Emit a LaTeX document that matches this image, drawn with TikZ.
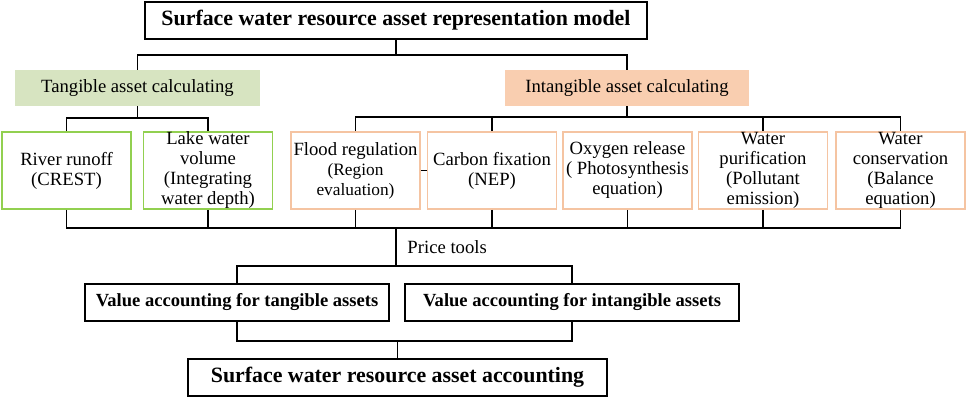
\documentclass[tikz,border=0pt]{standalone}
\usepackage{fontspec}
\setmainfont{Liberation Serif}
\usepackage{xcolor}
\usetikzlibrary{positioning}
\definecolor{green1}{RGB}{146,208,80}
\definecolor{greenfill}{RGB}{215,228,193}
\definecolor{orange1}{RGB}{245,196,162}
\definecolor{orangefill}{RGB}{249,206,176}
\newcommand{\subsize}{\fontsize{13pt}{14pt}\selectfont}

\begin{document}
\begin{tikzpicture}[x=0.75pt, y=-0.75pt,
    every node/.style={font=\fontsize{14pt}{15pt}\selectfont, inner sep=0pt, align=center},
    mainbox/.style={draw=black, line width=1.4pt, minimum height=27.75pt, font=\fontsize{16.4pt}{18pt}\selectfont\bfseries},
    valuebox/.style={draw=black, line width=1.4pt, minimum height=27.75pt, font=\fontsize{13.9pt}{15pt}\selectfont\bfseries},
    tangcat/.style={fill=greenfill, minimum width=183.75pt, minimum height=27pt},
    intcat/.style={fill=orangefill, minimum width=183pt, minimum height=27pt},
    tangbox/.style={draw=green1, line width=1.2pt, minimum width=97pt, minimum height=57.75pt},
    intbox/.style={draw=orange1, line width=1.2pt, minimum width=97pt, minimum height=57.75pt},
    conn/.style={draw=black, line width=1.2pt}
]
    \useasboundingbox (0,0) rectangle (969,399);

    \node[mainbox, minimum width=376.5pt, name=top] at(396,20.5) {Surface water resource asset representation model};

    \node[tangcat, name=tang] at(137.5,88) {Tangible asset calculating};
    \node[intcat, name=intang] at(627,88) {Intangible asset calculating};

    \node[tangbox, name=river] at(66.5,170.5) {River runoff\\(CREST)};
    \node[tangbox, name=lake] at(208,170.5) {Lake water\\volume\\(Integrating\\water depth)};

    \node[intbox, name=flood] at(355.5,170.5) {Flood regulation\\\subsize (Region\\\subsize evaluation)};
    \node[intbox, name=carbon] at(492,170.5) {Carbon fixation\\(NEP)};
    \node[intbox, name=oxygen] at(627.5,170.5) {Oxygen release\\( Photosynthesis\\equation)};
    \node[intbox, name=purif] at(763,170.5) {Water\\purification\\(Pollutant\\emission)};
    \node[intbox, name=conserv] at(900.5,170.5) {Water\\conservation\\(Balance\\equation)};

    \node[valuebox, minimum width=228pt, name=valt] at(237,302.5) {Value accounting for tangible assets};
    \node[valuebox, minimum width=250.5pt, name=vali] at(572,302.5) {Value accounting for intangible assets};

    \node[mainbox, minimum width=314.25pt, name=final] at(397.5,377.5) {Surface water resource asset accounting};

    % upper tree
    \draw[conn] (top.south) -- ++(0,15) coordinate (tb);
    \draw[conn] (tang.north) |- (tb) -| (intang.north);
    \draw[conn] (tang.south) -- ++(0,12) coordinate (tg);
    \draw[conn] (river.north) |- (tg) -| (lake.north);
    \draw[conn] (intang.south) -- ++(0,11) coordinate (ig);
    \draw[conn] (flood.north) |- (ig) -| (conserv.north);
    \foreach \n in {carbon,purif}
        \draw[conn] (\n.north) -- (\n.north |- ig);
    \draw[conn] (flood) -- (carbon);

    % price tools
    \coordinate (pb) at(396,228);
    \draw[conn] (river.south) |- (conserv.south |- pb) -- (conserv.south);
    \foreach \n in {lake,flood,carbon,oxygen,purif}
        \draw[conn] (\n.south) -- (\n.south |- pb);
    \draw[conn] (pb) -- ++(0,38) coordinate (vb) node[pos=0.5, right=8pt, name=price] {Price tools};
    \draw[conn] (valt.north) |- (vb) -| (vali.north);

    % accounting
    \draw[conn] (valt.south) |- (final.north |- 0,341) -| (vali.south);
    \draw[conn] (final.north) -- (final.north |- 0,341);
\end{tikzpicture}
\end{document}
